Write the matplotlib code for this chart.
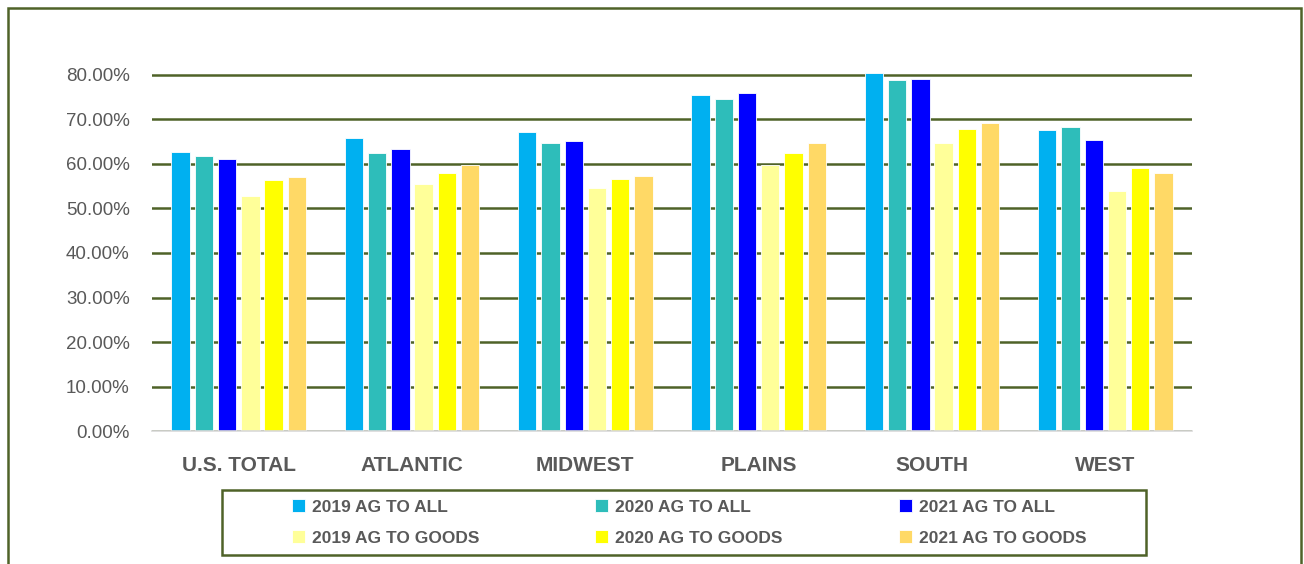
import numpy as np
import matplotlib.pyplot as plt
from matplotlib.patches import Rectangle
from matplotlib.ticker import FuncFormatter

regions = ["U.S. TOTAL", "ATLANTIC", "MIDWEST", "PLAINS", "SOUTH", "WEST"]
series = ["2019 AG TO ALL", "2020 AG TO ALL", "2021 AG TO ALL",
          "2019 AG TO GOODS", "2020 AG TO GOODS", "2021 AG TO GOODS"]

all_2019 = [0.628, 0.658, 0.671, 0.754, 0.805, 0.676]
all_2020 = [0.618, 0.625, 0.648, 0.745, 0.788, 0.682]
all_2021 = [0.612, 0.633, 0.652, 0.760, 0.790, 0.655]
goods_2019 = [0.528, 0.556, 0.546, 0.597, 0.648, 0.539]
goods_2020 = [0.564, 0.579, 0.566, 0.625, 0.679, 0.591]
goods_2021 = [0.570, 0.598, 0.573, 0.647, 0.692, 0.580]

values = [all_2019, all_2020, all_2021, goods_2019, goods_2020, goods_2021]
colors = ["#00B0F0", "#2EBDBA", "#0000FF", "#FFFF99", "#FFFF00", "#FFD966"]

green = "#4F6228"
gray = "#595959"

fig = plt.figure(figsize=(13.04, 5.64), dpi=100)
ax = fig.add_axes([0.1166, 0.2358, 0.7975, 0.6707])

x = np.arange(len(regions))
step = 0.134
width = 0.106
for i, (vals, col) in enumerate(zip(values, colors)):
    ax.bar(x + (i - 2.5) * step, vals, width, color=col, edgecolor="white",
           linewidth=0.6, label=series[i], zorder=3)

ax.set_xlim(-0.5, len(regions) - 0.5)
ax.set_ylim(0, 0.85)
ax.set_yticks(np.arange(0, 0.81, 0.1))
ax.yaxis.set_major_formatter(FuncFormatter(lambda v, p: f"{v * 100:.2f}%"))
ax.grid(axis="y", color=green, linewidth=1.8, zorder=0)
ax.set_axisbelow(True)

for s in ["top", "right", "left"]:
    ax.spines[s].set_visible(False)
ax.spines["bottom"].set_color("#D9D9D9")
ax.spines["bottom"].set_linewidth(1.2)
ax.spines["bottom"].set_zorder(4)

ax.set_xticks(x)
ax.set_xticklabels(regions, fontsize=15, fontweight="bold", color=gray,
                   family="Liberation Sans")
ax.tick_params(axis="x", length=0, pad=18)
ax.tick_params(axis="y", length=0, pad=16, labelsize=13.5, labelcolor=gray)
for lbl in ax.get_yticklabels():
    lbl.set_family("Liberation Sans")

# legend: row 1 = "ALL" series, row 2 = "GOODS" series
h, l = ax.get_legend_handles_labels()
order = [0, 3, 1, 4, 2, 5]
leg = fig.legend([h[i] for i in order], [l[i] for i in order], ncol=3,
                 loc="center", mode="expand", frameon=False, borderpad=0,
                 bbox_to_anchor=(283 / 1304, 0.0736 - 0.05, 812 / 1304, 0.1),
                 handlelength=0.75, handleheight=0.75, handletextpad=0.4,
                 labelspacing=0.9,
                 prop={"family": "Liberation Sans", "weight": "bold", "size": 12.5})
for t in leg.get_texts():
    t.set_color(gray)

fig.patches.append(Rectangle((222 / 1304, 0.016), 924 / 1304, 65 / 564,
                             transform=fig.transFigure, fill=False,
                             edgecolor=green, linewidth=1.8))
fig.patches.append(Rectangle((0.0061, -0.05), 0.9916, 1.0358,
                             transform=fig.transFigure, fill=False,
                             edgecolor=green, linewidth=1.8))

fig.savefig("out.png", dpi=100)
